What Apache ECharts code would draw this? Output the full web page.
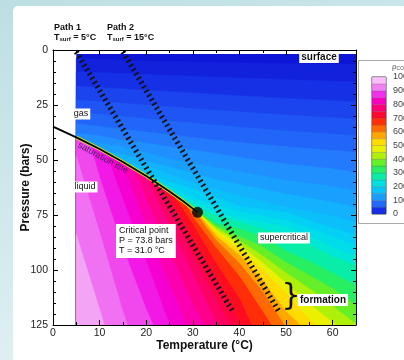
<!DOCTYPE html>
<html><head><meta charset="utf-8">
<script src="https://cdn.jsdelivr.net/npm/echarts@6/dist/echarts.min.js"></script>
<style>html,body{margin:0;padding:0;background:#fff}#c{width:404px;height:360px}</style>
</head><body><div id="c"></div>
<script>
// ================= DATA =================
// axis ticks
const tempTicks = [0, 10, 20, 30, 40, 50, 60];
const presTicks = [0, 25, 50, 75, 100, 125];
// computed-field domain (temperature °C, pressure bar)
const fieldT = [5, 65];
const fieldP = [0, 125];
// CO2 saturation line [T, P]
const satLine = [[0,34.85],[5,39.7],[10,45.0],[15,50.9],[20,57.3],[25,64.3],[28,68.9],[30,72.1],[31,73.8]];
// critical point [T, P]
const criticalPoint = [31.0, 73.8];
// geothermal paths [T, P]
const path1 = [[5,0.8],[38.6,119]];
const path2 = [[15,0.8],[48.5,119]];
// iso-density contour levels (kg/m3) and their lines [T, P]
const isoLevels = [8,20,35,50,65,80,100,120,140,160,180,200,225,250,300,350,400,450,500,550,600,650,700,725,750,775,800,825,850,875,900,925];
const isoLines = [
  [[5,3.8],[20,5.0],[35,5.6],[50,6.1],[65,6.5]],
  [[5,9.9],[20,11.1],[35,12.4],[50,13.5],[65,14.5]],
  [[5,16.5],[20,18.3],[35,20.2],[50,22],[65,23.5]],
  [[5,22.7],[20,25],[35,27.4],[50,29.5],[65,31.5]],
  [[5,28.3],[20,31.3],[35,34.2],[50,36.8],[65,39]],
  [[5,33.5],[20,37.3],[35,41],[50,44],[65,46.5]],
  [[5,38],[10,39],[15,41],[20,42.3],[25,44],[30,45.5],[35,47],[40,48.8],[50,51.8],[60,54],[65,55.6]],
  [[6,40.76],[10,42.5],[15,44],[20,46.7],[25,49.5],[30,51.4],[35,53.5],[40,55.3],[50,59.3],[60,62],[65,64]],
  [[11,46.2],[15,47.4],[20,50.6],[25,53.2],[30,56],[35,59],[40,61.2],[50,65.5],[60,69.3],[65,71.7]],
  [[15,50.9],[20,53],[25,56.6],[30,60.5],[35,63.5],[40,66.3],[50,71.5],[60,75.5],[65,78.5]],
  [[17.9,54.6],[20,56.3],[25,60],[30,63],[35,67],[40,71],[50,73.9],[60,81],[65,84]],
  [[20.6,58.1],[25,62],[30,67.5],[35,70.5],[40,73.5],[45,75.5],[50,77.5],[55,81],[60,85],[65,89]],
  [[23.2,61.8],[30,69],[35,74],[40,76.5],[45,78.5],[50,80.5],[55,84.5],[60,90],[65,93.6]],
  [[25.5,65.07],[30,70.5],[35,75.5],[40,78.2],[45,81.5],[50,84],[55,88.5],[60,94],[65,98]],
  [[28.4,69.54],[31,72.6],[35,79],[40,81.3],[45,85],[50,91.5],[55,96],[60,101.5],[65,107]],
  [[30.1,72.27],[35,80],[40,84.8],[45,89.5],[50,96.6],[55,102.5],[60,108.5],[65,116]],
  [[30.5,72.95],[35,80.8],[40,86.8],[45,93.5],[50,101.4],[55,108.5],[60,116.5],[65,124.5]],
  [[31,73.8],[35,81.8],[40,88.6],[45,96.8],[50,106],[55,115.5],[60.7,125]],
  [[30.9,73.63],[35,83],[40,90.7],[45,100],[50,110.5],[55,122.5],[56.5,125]],
  [[30.4,72.78],[35,84.5],[40,93.3],[45,105],[50,119],[53,125]],
  [[29.95,72.02],[31,75.5],[35,86.5],[40,97],[45,110],[49.6,125]],
  [[28.1,69.06],[30,76],[35,90],[40,103],[45,119],[46.8,125]],
  [[25.5,65.07],[28,73],[30,79.5],[35,97],[40,113],[42.5,125]],
  [[23.8,62.6],[25,66.7],[30,86],[35,104],[40,124],[40.3,125]],
  [[21.9,59.96],[25,71.5],[30,93.5],[35,113.5],[38,125]],
  [[19.8,57.04],[25,80],[30,102],[35,124],[35.3,125]],
  [[17.3,53.8],[20,68.5],[25,92],[30,116],[32.5,125]],
  [[14.6,50.4],[15,52.5],[20,81],[25,107],[28.5,125]],
  [[11.4,46.65],[15,68],[20,96],[25,125]],
  [[7.9,42.7],[10,58],[15,90],[20,118],[21.5,125]],
  [[5,48.3],[10,83],[15,119],[16,125]],
  [[5,84],[10,118],[11,125]]
];
// colour-bar levels and tick labels
const colorbarLevels = [0,50,100,150,200,250,300,350,400,450,500,550,600,650,700,750,800,850,900,950,1000];
const colorbarTicks = [0,100,200,300,400,500,600,700,800,900,1000];

// ================= STYLE =================
const FONT = '"Liberation Sans", Arial, sans-serif';
const CMAP_STOPS = [
 [0,'#0c10d4'],[50,'#1e4cf2'],[100,'#2486ff'],[150,'#12b2ff'],[200,'#00d6f2'],[250,'#00eccc'],
 [300,'#10f086'],[350,'#3cee3c'],[400,'#8cf014'],[450,'#d2f000'],[500,'#fff200'],[550,'#ffc400'],
 [600,'#ff8a00'],[650,'#ff4a00'],[700,'#ff1010'],[750,'#ff0052'],[800,'#ff009e'],[850,'#f200e0'],
 [900,'#f060f2'],[950,'#f4a4f4'],[1000,'#ffd8ff']];
function h2r(h){return [1,3,5].map(i=>parseInt(h.substr(i,2),16));}
function cmap(v){
  for(let i=0;i<CMAP_STOPS.length-1;i++){
    const a=CMAP_STOPS[i],b=CMAP_STOPS[i+1];
    if(v<=b[0]){const t=Math.max(0,(v-a[0])/(b[0]-a[0]));const ca=h2r(a[1]),cb=h2r(b[1]);
      return 'rgb('+ca.map((c,k)=>Math.round(c+(cb[k]-c)*t)).join(',')+')';}
  }
  return CMAP_STOPS[CMAP_STOPS.length-1][1];
}
const bandColor = isoLevels.map((L,i)=> cmap(i<isoLevels.length-1 ? (L+isoLevels[i+1])/2 : L+25));
const baseColor = cmap(isoLevels[0]/2);

function polyFor(line){
  const pts=[];
  const s=line[0];
  if(s[0] > fieldT[0]+0.01){
    satLine.forEach(p=>{ if(p[0]>=fieldT[0] && p[0]<s[0]-0.01) pts.push(p); });
  }
  line.forEach(p=>pts.push(p));
  const e=line[line.length-1];
  if(e[1] < fieldP[1]-0.01) pts.push([fieldT[1], fieldP[1]]);
  pts.push([fieldT[0], fieldP[1]]);
  return pts;
}

const chart = echarts.init(document.getElementById('c'), null, {renderer:'canvas', width:404, height:360, devicePixelRatio:1});

const axisCommon = {
  type:'value', z:10,
  axisLine:{show:true,onZero:false,lineStyle:{color:'#000',width:1}},
  axisTick:{show:true,inside:true,length:5,lineStyle:{color:'#000',width:1}},
  minorTick:{show:true,length:3,lineStyle:{color:'#000',width:1}},
  splitLine:{show:false}, minorSplitLine:{show:false}
};
const txt = (text, x, y, o) => Object.assign({type:'text', x, y, z:100, silent:true,
  style:Object.assign({text, fill:'#111', fontSize:9, fontFamily:FONT, align:'center', verticalAlign:'middle'}, o||{})});

const option = {
  animation:false,
  backgroundColor:{type:'linear',x:0,y:0,x2:0.3,y2:1,colorStops:[{offset:0,color:'#bcdfe4'},{offset:1,color:'#e2f1f3'}]},
  grid:[{left:53,top:50,width:303,height:275,outerBoundsMode:'none'},
        {left:372,top:77,width:14,height:137,outerBoundsMode:'none'}],
  xAxis:[
    Object.assign({},axisCommon,{gridIndex:0,min:0,max:65,interval:10,position:'bottom',
      minorTick:Object.assign({},axisCommon.minorTick,{splitNumber:2}),
      axisLabel:{show:true,margin:3,fontSize:10.5,color:'#222',fontFamily:FONT,showMaxLabel:false,
        formatter:v=>tempTicks.indexOf(v)>=0?String(v):''},
      name:'Temperature (°C)',nameLocation:'middle',nameGap:15,nameMoveOverlap:false,
      nameTextStyle:{fontSize:12,fontWeight:'bold',color:'#111',fontFamily:FONT}}),
    Object.assign({},axisCommon,{gridIndex:0,min:0,max:65,interval:10,position:'top',
      minorTick:Object.assign({},axisCommon.minorTick,{splitNumber:2}),axisLabel:{show:false}}),
    {gridIndex:1,type:'value',min:0,max:1,show:false}
  ],
  yAxis:[
    Object.assign({},axisCommon,{gridIndex:0,min:0,max:125,interval:25,inverse:true,position:'left',
      minorTick:Object.assign({},axisCommon.minorTick,{splitNumber:5}),
      axisLabel:{show:true,margin:5,fontSize:10.5,color:'#222',fontFamily:FONT,
        formatter:v=>presTicks.indexOf(v)>=0?String(v):''},
      name:'Pressure (bars)',nameLocation:'middle',nameGap:21,nameRotate:90,nameMoveOverlap:false,
      nameTextStyle:{fontSize:12,fontWeight:'bold',color:'#111',fontFamily:FONT}}),
    Object.assign({},axisCommon,{gridIndex:0,min:0,max:125,interval:25,inverse:true,position:'right',
      minorTick:Object.assign({},axisCommon.minorTick,{splitNumber:5}),axisLabel:{show:false}}),
    {gridIndex:1,type:'value',min:0,max:1000,interval:100,position:'right',
      axisLine:{show:false},axisTick:{show:false},splitLine:{show:false},
      axisLabel:{show:true,margin:7,fontSize:9,color:'#444',fontFamily:FONT,align:'left',
        formatter:v=>colorbarTicks.indexOf(v)>=0?String(v):''}}
  ],
  series:[
    {type:'custom',xAxisIndex:0,yAxisIndex:0,z:1,silent:true,data:[[0,0]],
      renderItem:(p,api)=>{const a=api.coord([fieldT[0],fieldP[0]]),b=api.coord([fieldT[1],fieldP[1]]);
        return {type:'rect',shape:{x:a[0],y:a[1],width:b[0]-a[0],height:b[1]-a[1]},style:{fill:baseColor}};}},
    {type:'custom',xAxisIndex:0,yAxisIndex:0,z:2,silent:true,
      data:isoLevels.map((L,i)=>[i,0]),
      renderItem:(p,api)=>{const i=p.dataIndex;const pts=polyFor(isoLines[i]).map(q=>api.coord(q));
        return {type:'polygon',shape:{points:pts},style:{fill:bandColor[i],stroke:bandColor[i],lineWidth:0.6}};}},
    {type:'line',xAxisIndex:0,yAxisIndex:0,z:3,silent:true,symbol:'none',
      data:satLine.filter(p=>p[0]>=fieldT[0]),lineStyle:{color:'#d4ea10',width:3.5},
      markLine:{silent:true,symbol:'none',label:{show:false},lineStyle:{color:'#fff',width:3,type:'solid'},data:[{yAxis:1}]}},
    {type:'line',xAxisIndex:0,yAxisIndex:0,z:4,silent:true,symbol:'none',
      data:satLine,lineStyle:{color:'#000',width:1.8}},
    {type:'line',xAxisIndex:0,yAxisIndex:0,z:5,silent:true,symbol:'none',
      data:path1,lineStyle:{color:'#111',width:5.5,type:[1.8,3.2]}},
    {type:'line',xAxisIndex:0,yAxisIndex:0,z:5,silent:true,symbol:'none',
      data:path2,lineStyle:{color:'#111',width:5.5,type:[1.8,3.2]}},
    {type:'scatter',xAxisIndex:0,yAxisIndex:0,z:6,silent:true,symbolSize:11,
      data:[criticalPoint],itemStyle:{color:'#000'}},
    {type:'custom',xAxisIndex:2,yAxisIndex:2,z:3,silent:true,
      data:colorbarLevels.slice(0,-1).map((lo,i)=>[0,lo,colorbarLevels[i+1]]),
      renderItem:(p,api)=>{const a=api.coord([0,api.value(2)]),b=api.coord([1,api.value(1)]);
        const c=cmap((api.value(1)+api.value(2))/2);
        return {type:'rect',shape:{x:a[0],y:a[1],width:b[0]-a[0],height:b[1]-a[1]},
          style:{fill:c,stroke:'rgba(60,60,60,0.35)',lineWidth:0.5}};}}
  ],
  graphic:[
    {type:'rect',z:-10,silent:true,shape:{x:13,y:6,width:400,height:360,r:[5,0,0,0]},style:{fill:'#fff'}},
    {type:'rect',z:-5,silent:true,shape:{x:358.5,y:60.5,width:60,height:163},style:{fill:'#fff',stroke:'#aaa',lineWidth:1}},
    {type:'rect',z:-4,silent:true,shape:{x:372,y:77,width:14,height:137},style:{fill:'none',stroke:'#555',lineWidth:1}},
    txt('ρ{s|CO2}',392,67,{fontSize:8,fill:'#555',align:'left',rich:{s:{fontSize:5,fill:'#555',verticalAlign:'bottom'}}}),
    txt('Path 1',54,28,{fontWeight:'bold',align:'left'}),
    txt('T{s|surf} = 5°C',54,38,{fontWeight:'bold',align:'left',rich:{s:{fontSize:6,fontWeight:'bold',verticalAlign:'bottom',fill:'#111'}}}),
    txt('Path 2',107,28,{fontWeight:'bold',align:'left'}),
    txt('T{s|surf} = 15°C',107,38,{fontWeight:'bold',align:'left',rich:{s:{fontSize:6,fontWeight:'bold',verticalAlign:'bottom',fill:'#111'}}}),
    txt('gas',81,114,{backgroundColor:'#fff',padding:[1,2]}),
    txt('liquid',85,187,{backgroundColor:'#fff',padding:[1,2]}),
    Object.assign(txt('saturation line',103,158,{fill:'#4a1868'}),{rotation:-0.5}),
    txt('Critical point\nP = 73.8 bars\nT = 31.0 °C',116,224,{align:'left',verticalAlign:'top',lineHeight:10,backgroundColor:'#fff',padding:[2,3]}),
    txt('supercritical',284,238,{backgroundColor:'#fff',padding:[1,2]}),
    txt('surface',319,57,{fontWeight:'bold',fontSize:10,backgroundColor:'#fff',padding:[1,2]}),
    txt('formation',323,300,{fontWeight:'bold',fontSize:10,backgroundColor:'#fff',padding:[1,2]}),
    txt('}',291,297,{fontSize:30,fontFamily:'"DejaVu Sans", sans-serif'})
  ]
};
chart.setOption(option);
</script></body></html>
